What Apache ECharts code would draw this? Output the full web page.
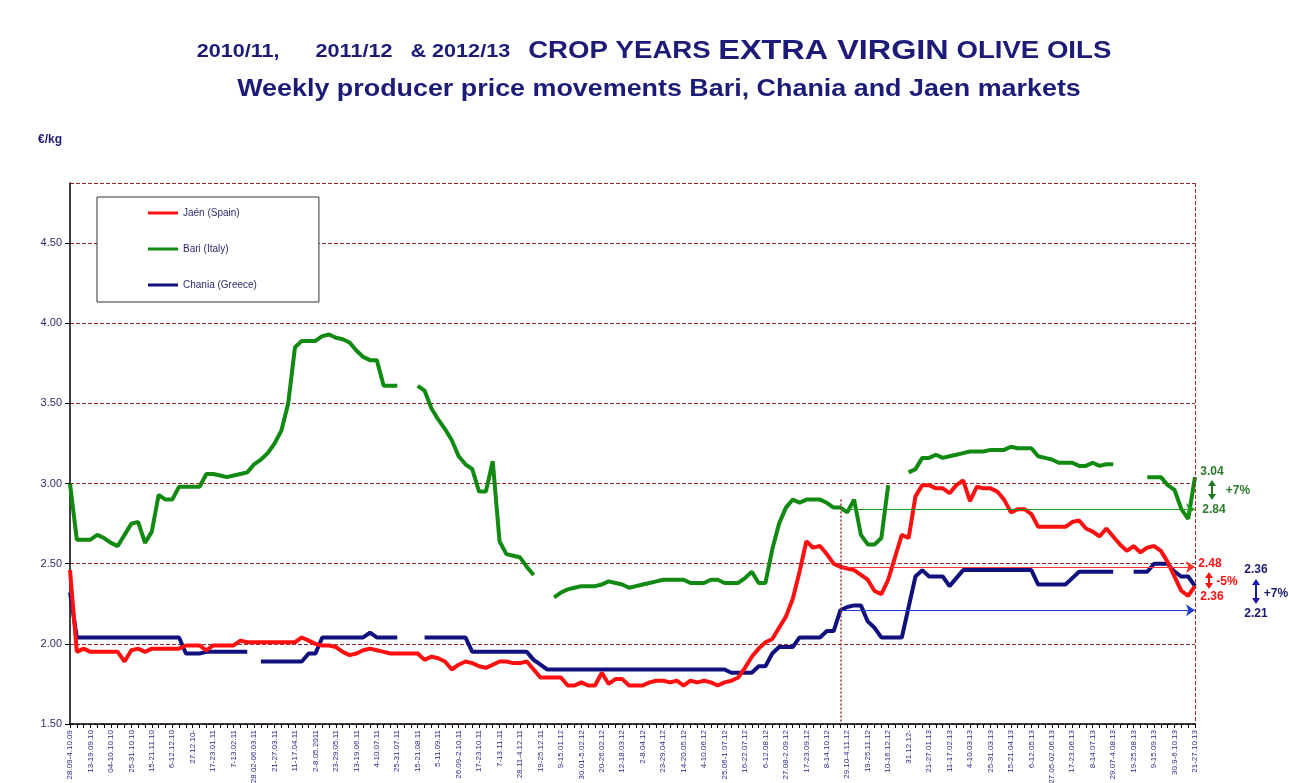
<!DOCTYPE html>
<html>
<head>
<meta charset="utf-8">
<title>Extra virgin olive oils - weekly producer prices</title>
<script src="https://cdn.jsdelivr.net/npm/echarts@6/dist/echarts.min.js"></script>
<style>
  html, body { margin: 0; padding: 0; background: #fff; }
  #container { width: 1289px; height: 783px; }
</style>
</head>
<body>
<div id="container"></div>
<script>
'use strict';

// every third week carries a label on the axis
var weekLabels = [
	'28.09-4.10.09', '13-19.09.10', '04-10.10.10', '25-31.10.10', '15-21.11.10', '6-12.12.10',
	'27.12.10-', '17-23.01.11', '7-13.02.11', '28.02-06.03.11', '21-27.03.11', '11-17.04.11',
	'2-8.05.2011', '23-29.05.11', '13-19.06.11', '4-10.07.11', '25-31.07.11', '15-21.08.11',
	'5-11.09.11', '26.09-2.10.11', '17-23.10.11', '7-13.11.11', '28.11-4.12.11', '19-25.12.11',
	'9-15.01.12', '30.01-5.02.12', '20-26.02.12', '12-18.03.12', '2-8.04.12', '23-29.04.12',
	'14-20.05.12', '4-10.06.12', '25.06-1.07.12', '16-22.07.12', '6-12.08.12', '27.08-2.09.12',
	'17-23.09.12', '8-14.10.12', '29.10-4.11.12', '19-25.11.12', '10-16.12.12', '31.12.12-',
	'21-27.01.13', '11-17.02.13', '4-10.03.13', '25-31.03.13', '15-21.04.13', '6-12.05.13',
	'27.05-02.06.13', '17-23.06.13', '8-14.07.13', '29.07-4.08.13', '19-25.08.13', '9-15.09.13',
	'30.9-6.10.13', '21-27.10.13'
];

// Jaén (Spain), €/kg, weekly
var jaen = [
	2.46, 1.95, 1.97, 1.95, 1.95, 1.95, 1.95, 1.95, 1.89, 1.96,
	1.97, 1.95, 1.97, 1.97, 1.97, 1.97, 1.97, 1.99, 1.99, 1.99,
	1.96, 1.99, 1.99, 1.99, 1.99, 2.02, 2.01, 2.01, 2.01, 2.01,
	2.01, 2.01, 2.01, 2.01, 2.04, 2.02, 2.00, 1.99, 1.99, 1.98,
	1.95, 1.93, 1.94, 1.96, 1.97, 1.96, 1.95, 1.94, 1.94, 1.94,
	1.94, 1.94, 1.90, 1.92, 1.91, 1.89, 1.84, 1.87, 1.89, 1.88,
	1.86, 1.85, 1.87, 1.89, 1.89, 1.88, 1.88, 1.89, 1.84, 1.79,
	1.79, 1.79, 1.79, 1.74, 1.74, 1.76, 1.74, 1.74, 1.82, 1.75,
	1.78, 1.78, 1.74, 1.74, 1.74, 1.76, 1.77, 1.77, 1.76, 1.77,
	1.74, 1.77, 1.76, 1.77, 1.76, 1.74, 1.76, 1.77, 1.79, 1.85,
	1.92, 1.97, 2.01, 2.03, 2.10, 2.17, 2.28, 2.45, 2.64, 2.60,
	2.61, 2.56, 2.50, 2.48, 2.47, 2.46, 2.43, 2.40, 2.33, 2.31,
	2.40, 2.54, 2.68, 2.66, 2.92, 2.99, 2.99, 2.97, 2.97, 2.94,
	2.99, 3.02, 2.89, 2.98, 2.97, 2.97, 2.95, 2.90, 2.82, 2.84,
	2.84, 2.81, 2.73, 2.73, 2.73, 2.73, 2.73, 2.76, 2.77, 2.72,
	2.70, 2.67, 2.72, 2.67, 2.62, 2.58, 2.61, 2.57, 2.60, 2.61,
	2.58, 2.51, 2.42, 2.33, 2.30, 2.36
];

// Bari (Italy)
var bari = [
	3.00, 2.65, 2.65, 2.65, 2.68, 2.66, 2.63, 2.61, 2.68, 2.75,
	2.76, 2.63, 2.70, 2.93, 2.90, 2.90, 2.98, 2.98, 2.98, 2.98,
	3.06, 3.06, 3.05, 3.04, 3.05, 3.06, 3.07, 3.12, 3.15, 3.19,
	3.25, 3.33, 3.50, 3.85, 3.89, 3.89, 3.89, 3.92, 3.93, 3.91,
	3.90, 3.88, 3.83, 3.79, 3.77, 3.77, 3.61, 3.61, 3.61, null,
	null, 3.61, 3.58, 3.47, 3.40, 3.34, 3.27, 3.17, 3.12, 3.09,
	2.95, 2.95, 3.14, 2.64, 2.56, 2.55, 2.54, 2.48, 2.43, null,
	null, 2.29, 2.32, 2.34, 2.35, 2.36, 2.36, 2.36, 2.37, 2.39,
	2.38, 2.37, 2.35, 2.36, 2.37, 2.38, 2.39, 2.40, 2.40, 2.40,
	2.40, 2.38, 2.38, 2.38, 2.40, 2.40, 2.38, 2.38, 2.38, 2.41,
	2.45, 2.38, 2.38, 2.59, 2.75, 2.85, 2.90, 2.88, 2.90, 2.90,
	2.90, 2.88, 2.85, 2.85, 2.82, 2.90, 2.68, 2.62, 2.62, 2.66,
	2.99, null, null, 3.07, 3.09, 3.16, 3.16, 3.18, 3.16, 3.17,
	3.18, 3.19, 3.20, 3.20, 3.20, 3.21, 3.21, 3.21, 3.23, 3.22,
	3.22, 3.22, 3.17, 3.16, 3.15, 3.13, 3.13, 3.13, 3.11, 3.11,
	3.13, 3.11, 3.12, 3.12, null, null, null, null, 3.04, 3.04,
	3.04, 2.99, 2.96, 2.84, 2.78, 3.04
];

// Chania (Greece)
var chania = [
	2.32, 2.04, 2.04, 2.04, 2.04, 2.04, 2.04, 2.04, 2.04, 2.04,
	2.04, 2.04, 2.04, 2.04, 2.04, 2.04, 2.04, 1.94, 1.94, 1.94,
	1.95, 1.95, 1.95, 1.95, 1.95, 1.95, 1.95, null, 1.89, 1.89,
	1.89, 1.89, 1.89, 1.89, 1.89, 1.94, 1.94, 2.04, 2.04, 2.04,
	2.04, 2.04, 2.04, 2.04, 2.07, 2.04, 2.04, 2.04, 2.04, null,
	null, null, 2.04, 2.04, 2.04, 2.04, 2.04, 2.04, 2.04, 1.95,
	1.95, 1.95, 1.95, 1.95, 1.95, 1.95, 1.95, 1.95, 1.90, 1.87,
	1.84, 1.84, 1.84, 1.84, 1.84, 1.84, 1.84, 1.84, 1.84, 1.84,
	1.84, 1.84, 1.84, 1.84, 1.84, 1.84, 1.84, 1.84, 1.84, 1.84,
	1.84, 1.84, 1.84, 1.84, 1.84, 1.84, 1.84, 1.82, 1.82, 1.82,
	1.82, 1.86, 1.86, 1.94, 1.98, 1.98, 1.98, 2.04, 2.04, 2.04,
	2.04, 2.08, 2.08, 2.21, 2.23, 2.24, 2.24, 2.14, 2.10, 2.04,
	2.04, 2.04, 2.04, 2.23, 2.42, 2.46, 2.42, 2.42, 2.42, 2.36,
	2.41, 2.46, 2.46, 2.46, 2.46, 2.46, 2.46, 2.46, 2.46, 2.46,
	2.46, 2.46, 2.37, 2.37, 2.37, 2.37, 2.37, 2.41, 2.45, 2.45,
	2.45, 2.45, 2.45, 2.45, null, null, 2.45, 2.45, 2.45, 2.50,
	2.50, 2.50, 2.45, 2.42, 2.42, 2.36
];

// start of the 2012/13 crop year and the reference levels drawn from it
var cropStartWeek = 113;
var refLevels = { bari: 2.84, jaen: 2.48, chania: 2.21 };

var yMin = 1.5, yMax = 4.875, yStep = 0.5;

var RED = '#ff1010', GREEN = '#108a10', NAVY = '#10107e';
var TITLE = '#1c1c78', GRID_RED = '#9a2a2a';

// one category per week, label only on every third one
var categories = [];
for (var i = 0; i < jaen.length; i++) {
	var k = Math.floor(i / 3);
	categories.push(i % 3 === 0 ? weekLabels[k] : weekLabels[k] + ' +' + (i % 3) + 'w');
}
var lastWeek = categories.length - 1;

function refLine(val, color) {
	return {
		silent: true,
		symbol: ['none', 'arrow'],
		symbolSize: 9,
		label: { show: false },
		lineStyle: { color: color, width: 1, type: 'solid' },
		data: [[{ coord: [cropStartWeek, val] }, { coord: [lastWeek, val] }]]
	};
}

function dblArrow(x, y1, y2, color) {
	return {
		type: 'group',
		children: [
			{ type: 'line', shape: { x1: x, y1: y1 + 4, x2: x, y2: y2 - 4 }, style: { stroke: color, lineWidth: 2 } },
			{ type: 'polygon', shape: { points: [[x, y1], [x - 4, y1 + 6], [x + 4, y1 + 6]] }, style: { fill: color } },
			{ type: 'polygon', shape: { points: [[x, y2], [x - 4, y2 - 6], [x + 4, y2 - 6]] }, style: { fill: color } }
		]
	};
}

function note(t, x, y, color) {
	return {
		type: 'text', x: x, y: y,
		style: { text: t, fill: color, font: 'bold 12px "Liberation Sans", Arial', align: 'center', verticalAlign: 'middle' }
	};
}

var dom = document.getElementById('container');
var myChart = echarts.init(dom, null, { renderer: 'canvas' });

var titleFont = '"Liberation Sans", Arial';

var option = {
	animation: false,
	backgroundColor: '#fff',
	textStyle: { fontFamily: '"Liberation Sans", Arial, sans-serif' },
	grid: { left: 70, right: 94, top: 183, bottom: 59, outerBoundsMode: 'none' },
	legend: {
		orient: 'vertical',
		left: 97,
		top: 197,
		data: ['Jaén (Spain)', 'Bari (Italy)', 'Chania (Greece)'],
		icon: 'rect',
		itemWidth: 30,
		itemHeight: 3,
		itemGap: 24,
		padding: [10, 62, 11, 51],
		backgroundColor: '#fff',
		borderColor: '#333',
		borderWidth: 1,
		textStyle: { fontSize: 10, color: '#2b2b70', lineHeight: 12 },
		selectedMode: false
	},
	xAxis: {
		type: 'category',
		data: categories,
		boundaryGap: false,
		axisLine: { lineStyle: { color: '#000', width: 1.5 } },
		axisTick: { show: true, interval: 0, length: 4, lineStyle: { color: '#000' } },
		axisLabel: {
			interval: 2, rotate: 90, fontSize: 8, color: '#2a2a8a', margin: 6
		},
		splitLine: { show: false }
	},
	yAxis: {
		type: 'value',
		min: yMin,
		max: yMax,
		interval: yStep,
		axisLine: { show: true, lineStyle: { color: '#000', width: 1.5 } },
		axisTick: { show: true, length: 5, lineStyle: { color: '#000' } },
		axisLabel: {
			showMaxLabel: false, fontSize: 11, color: '#2e2e6e', margin: 8,
			formatter: function (v) { return v.toFixed(2); }
		},
		splitLine: { show: true, lineStyle: { color: GRID_RED, type: [4, 2], width: 1 } }
	},
	series: [{
		name: 'Chania (Greece)',
		type: 'line',
		data: chania,
		showSymbol: false,
		symbol: 'none',
		color: NAVY,
		lineStyle: { width: 4, color: NAVY },
		markLine: refLine(refLevels.chania, '#1f3fd8')
	}, {
		name: 'Bari (Italy)',
		type: 'line',
		data: bari,
		showSymbol: false,
		symbol: 'none',
		color: GREEN,
		lineStyle: { width: 4, color: GREEN },
		markLine: refLine(refLevels.bari, '#1f9a1f')
	}, {
		name: 'Jaén (Spain)',
		type: 'line',
		data: jaen,
		showSymbol: false,
		symbol: 'none',
		color: RED,
		lineStyle: { width: 4, color: RED },
		markLine: refLine(refLevels.jaen, '#ff3030')
	}, {
		// vertical separators: crop year 2012/13 start and right frame
		name: 'frame',
		type: 'line',
		data: [],
		markLine: {
			silent: true,
			symbol: 'none',
			label: { show: false },
			data: [
				[{ coord: [cropStartWeek, 2.9], lineStyle: { color: GRID_RED, type: [2, 2], width: 1.5 } },
					{ coord: [cropStartWeek, yMin] }],
				[{ coord: [lastWeek, yMax], lineStyle: { color: GRID_RED, type: [4, 2], width: 1 } },
					{ coord: [lastWeek, yMin] }]
			]
		}
	}],
	graphic: [
		{
			type: 'text', x: 654, y: 52, scaleX: 1.2,
			style: {
				text: '{a|2010/11,      2011/12   & 2012/13   }{c|CROP YEARS }{b|EXTRA VIRGIN}{c| OLIVE OILS}',
				align: 'center', verticalAlign: 'middle',
				rich: {
					a: { fontSize: 18, fontWeight: 'bold', fill: TITLE, fontFamily: titleFont },
					c: { fontSize: 23, fontWeight: 'bold', fill: TITLE, fontFamily: titleFont },
					b: { fontSize: 27, fontWeight: 'bold', fill: TITLE, fontFamily: titleFont }
				}
			}
		},
		{
			type: 'text', x: 659, y: 89, scaleX: 1.12,
			style: {
				text: 'Weekly producer price movements Bari, Chania and Jaen markets',
				fill: TITLE, font: 'bold 24px ' + titleFont,
				align: 'center', verticalAlign: 'middle'
			}
		},
		{
			type: 'text', x: 38, y: 140,
			style: { text: '€/kg', fill: TITLE, font: 'bold 12px ' + titleFont, verticalAlign: 'middle' }
		},
		note('3.04', 1212, 472, '#2b7a2b'),
		dblArrow(1212, 480, 500, '#1f7a1f'),
		note('+7%', 1238, 491, '#2b7a2b'),
		note('2.84', 1214, 510, '#2b7a2b'),
		note('2.48', 1210, 564, RED),
		dblArrow(1209, 572, 589, RED),
		note('-5%', 1227, 582, RED),
		note('2.36', 1212, 597, RED),
		note('2.36', 1256, 570, '#1a1a6e'),
		dblArrow(1256, 579, 604, '#1a1ab0'),
		note('+7%', 1276, 594, '#1a1a6e'),
		note('2.21', 1256, 614, '#1a1a6e')
	]
};

if (option && typeof option === 'object') {
	myChart.setOption(option, true);
}
</script>
</body>
</html>
